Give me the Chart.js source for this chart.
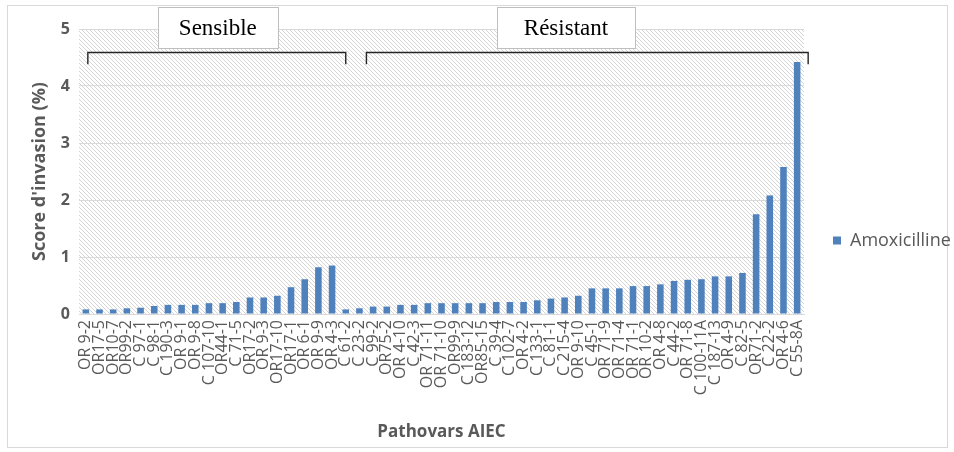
<!DOCTYPE html>
<html>
<head>
<meta charset="utf-8">
<script src="https://cdn.jsdelivr.net/npm/chart.js@4.4.0/dist/chart.umd.min.js"></script>
<style>
  html, body { margin: 0; padding: 0; background: #fff; }
  #wrap { width: 954px; height: 452px; }
</style>
</head>
<body>
<div id="wrap"><canvas id="chart"></canvas></div>
<script>
// AIEC strains, sorted by invasion score
const categories = [
  'OR 9-2', 'OR17-5', 'OR10-7', 'OR99-2', 'C 97-1', 'C 98-1', 'C 190-3', 'OR 9-1', 'OR 9-8', 'C 107-10',
  'OR44-1', 'C 71-5', 'OR17-2', 'OR 9-3', 'OR17-10', 'OR17-1', 'OR 6-1', 'OR 9-9', 'OR 4-3', 'C 61-2',
  'C 23-2', 'C 99-2', 'OR75-2', 'OR 4-10', 'C 42-3', 'OR 71-11', 'OR 71-10', 'OR99-9', 'C 183-12', 'OR85-15',
  'C 39-4', 'C 102-7', 'OR 4-2', 'C 133-1', 'C 81-1', 'C 215-4', 'OR 9-10', 'C 45-1', 'OR 71-9', 'OR 71-4',
  'OR 71-1', 'OR 10-2', 'OR 4-8', 'C 44-2', 'OR 71-8', 'C 100-11A', 'C 187-13', 'OR 4-9', 'C 82-5', 'OR71-2',
  'C 22-2', 'OR 4-6', 'C 55-8A'
];
const amoxicilline = [
  0.08, 0.08, 0.08, 0.10, 0.11, 0.14, 0.16, 0.16, 0.16, 0.19,
  0.19, 0.21, 0.29, 0.29, 0.32, 0.47, 0.61, 0.82, 0.85, 0.08,
  0.10, 0.13, 0.13, 0.16, 0.16, 0.19, 0.19, 0.19, 0.19, 0.19,
  0.21, 0.21, 0.21, 0.24, 0.27, 0.29, 0.32, 0.45, 0.45, 0.45,
  0.49, 0.49, 0.52, 0.58, 0.60, 0.61, 0.66, 0.66, 0.72, 1.75,
  2.08, 2.58, 4.42
];
const yTicks = [0, 1, 2, 3, 4, 5];

// bracket groups: label, first and last category index
const groupNames = ['Sensible', 'Résistant'];
const groupStart = [0, 20];
const groupEnd = [19, 52];

const grey = '#595959';

function hatchPattern(ctx) {
  const c = document.createElement('canvas');
  c.width = 4; c.height = 4;
  const g = c.getContext('2d');
  g.fillStyle = '#ffffff';
  g.fillRect(0, 0, 4, 4);
  g.fillStyle = '#d4d4d4';
  for (let i = 0; i < 4; i++) g.fillRect(i, i, 1, 1);
  return ctx.createPattern(c, 'repeat');
}

// keep the legend column a fixed width so the plot ends where it should
const legendWidth = {
  id: 'legendWidth',
  afterInit(chart) {
    const lg = chart.legend;
    if (!lg) return;
    const fit = lg.fit;
    lg.fit = function () {
      fit.call(this);
      this.width = 146;
    };
  }
};

const backdrop = {
  id: 'backdrop',
  beforeDraw(chart) {
    const {ctx, chartArea: a} = chart;
    ctx.save();
    ctx.fillStyle = hatchPattern(ctx);
    ctx.fillRect(a.left, a.top, a.right - a.left, a.bottom - a.top);
    // outer frame
    ctx.strokeStyle = '#d9d9d9';
    ctx.lineWidth = 1;
    ctx.strokeRect(7.5, 5.5, chart.width - 14, chart.height - 10);
    ctx.restore();
  }
};

const brackets = {
  id: 'brackets',
  afterDraw(chart) {
    const {ctx} = chart;
    const x = chart.scales.x, y = chart.scales.y;
    const yTop = Math.round(y.getPixelForValue(4.6)) + 0.5;
    const yFoot = y.getPixelForValue(4.38);
    ctx.save();
    ctx.strokeStyle = '#262626';
    ctx.lineWidth = 1.4;
    for (let i = 0; i < groupNames.length; i++) {
      const x0 = x.getPixelForValue(groupStart[i]) + (i === 0 ? 2 : 7);
      const x1 = x.getPixelForValue(groupEnd[i]) + (i === 0 ? 0 : 11);
      ctx.beginPath();
      ctx.moveTo(x0, yFoot);
      ctx.lineTo(x0, yTop);
      ctx.lineTo(x1, yTop);
      ctx.lineTo(x1, yFoot);
      ctx.stroke();
    }
    ctx.font = '23px "Liberation Serif", serif';
    ctx.textAlign = 'center';
    ctx.textBaseline = 'middle';
    const centers = [9.65, 35.1];
    const pads = [42, 54];
    for (let i = 0; i < groupNames.length; i++) {
      const cx = x.getPixelForValue(centers[i]);
      const w = ctx.measureText(groupNames[i]).width + pads[i];
      ctx.fillStyle = '#ffffff';
      ctx.fillRect(cx - w / 2, 7, w, 41);
      ctx.strokeStyle = '#bfbfbf';
      ctx.lineWidth = 1;
      ctx.strokeRect(Math.round(cx - w / 2) + 0.5, 7.5, Math.round(w), 41);
      ctx.fillStyle = '#000000';
      ctx.fillText(groupNames[i], cx, 29);
    }
    ctx.restore();
  }
};

new Chart(document.getElementById('chart'), {
  type: 'bar',
  data: {
    labels: categories,
    datasets: [{
      label: 'Amoxicilline',
      data: amoxicilline,
      backgroundColor: '#4f81bd',
      borderWidth: 0,
      categoryPercentage: 1,
      barPercentage: 0.48
    }]
  },
  options: {
    responsive: true,
    maintainAspectRatio: false,
    animation: false,
    layout: { padding: { top: 29, right: 4, bottom: 0, left: 0 } },
    scales: {
      x: {
        offset: true,
        grid: { display: false, drawTicks: false },
        border: { color: '#d9d9d9', width: 1 },
        ticks: {
          autoSkip: false,
          minRotation: 90,
          maxRotation: 90,
          padding: 6,
          color: grey,
          font: { family: '"Open Sans", sans-serif', size: 16 }
        },
        title: {
          display: true,
          text: 'Pathovars AIEC',
          color: grey,
          font: { family: '"Open Sans", sans-serif', size: 17, weight: 'bold' },
          padding: { top: 0, bottom: 10 }
        },
        afterFit(scale) { scale.height = 138; }
      },
      y: {
        min: 0,
        max: 5,
        afterBuildTicks(scale) { scale.ticks = yTicks.map(v => ({ value: v })); },
        grid: { color: '#d9d9d9', drawTicks: false },
        border: { display: false },
        ticks: {
          padding: 9,
          color: grey,
          font: { family: '"Open Sans", sans-serif', size: 16, weight: 'bold' }
        },
        title: {
          display: true,
          text: "Score d'invasion (%)",
          color: grey,
          font: { family: '"Open Sans", sans-serif', size: 18, weight: 'bold' },
          padding: { top: 29, bottom: 0 }
        },
        afterFit(scale) { scale.width = 79; }
      }
    },
    plugins: {
      legend: {
        position: 'right',
        labels: {
          boxWidth: 8,
          boxHeight: 8,
          padding: 29,
          color: grey,
          font: { family: '"Open Sans", sans-serif', size: 18 }
        }
      },
      tooltip: { enabled: false }
    }
  },
  plugins: [legendWidth, backdrop, brackets]
});
</script>
</body>
</html>
